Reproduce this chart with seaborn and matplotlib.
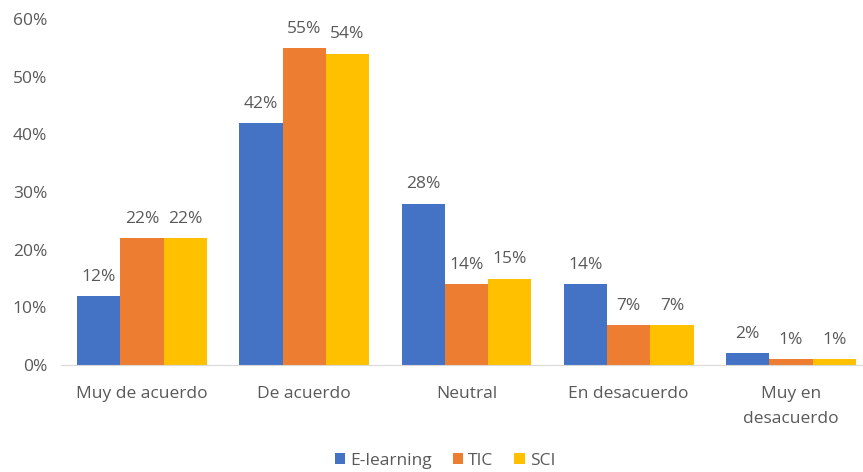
"""Survey responses by category, grouped bars for three series."""

import matplotlib.pyplot as plt
import pandas as pd
import seaborn as sns

categories = ["Muy de acuerdo", "De acuerdo", "Neutral", "En desacuerdo", "Muy en\ndesacuerdo"]
series = ["E-learning", "TIC", "SCI"]
elearning = [12, 42, 28, 14, 2]
tic = [22, 55, 14, 7, 1]
sci = [22, 54, 15, 7, 1]
y_ticks = [0, 10, 20, 30, 40, 50, 60]
colors = ["#4472C4", "#ED7D31", "#FFC000"]

df = pd.DataFrame(
    {
        "categoria": categories * 3,
        "serie": [s for s in series for _ in categories],
        "valor": elearning + tic + sci,
    }
)

sns.set_style("white")
plt.rcParams["font.family"] = ["Open Sans", "DejaVu Sans"]
text_color = "#595959"
fs = 12.5

fig = plt.figure(figsize=(8.63, 4.72), dpi=100)
ax = fig.add_axes([61 / 863, 1 - 365 / 472, 811 / 863, 346 / 472])

sns.barplot(
    data=df,
    x="categoria",
    y="valor",
    hue="serie",
    palette=colors,
    width=0.8,
    gap=0,
    saturation=1,
    linewidth=0,
    ax=ax,
)

# Data labels
for container in ax.containers:
    ax.bar_label(
        container,
        labels=[f"{v:.0f}%" for v in container.datavalues],
        padding=8,
        fontsize=fs,
        color=text_color,
    )

ax.set_xlim(-0.5, 4.5)
ax.set_ylim(0, 60)
ax.set_yticks(y_ticks)
ax.set_yticklabels([f"{t}%" for t in y_ticks], fontsize=fs, color=text_color)
ax.set_xticks(range(len(categories)))
ax.set_xticklabels(categories, fontsize=fs, color=text_color, linespacing=1.75)
ax.tick_params(axis="x", length=0, pad=15)
ax.tick_params(axis="y", length=0, pad=10)
ax.set_xlabel("")
ax.set_ylabel("")

for side in ["top", "right", "left"]:
    ax.spines[side].set_visible(False)
ax.spines["bottom"].set_color("#D9D9D9")

handles, labels = ax.get_legend_handles_labels()
ax.legend_.remove()
fig.legend(
    handles,
    labels,
    loc="center",
    bbox_to_anchor=(445 / 863, 1 - 461 / 472),
    ncol=3,
    frameon=False,
    fontsize=fs,
    labelcolor=text_color,
    handlelength=0.6,
    handleheight=0.6,
    handletextpad=0.3,
    columnspacing=1.2,
)

fig.savefig("out.png", dpi=100)
